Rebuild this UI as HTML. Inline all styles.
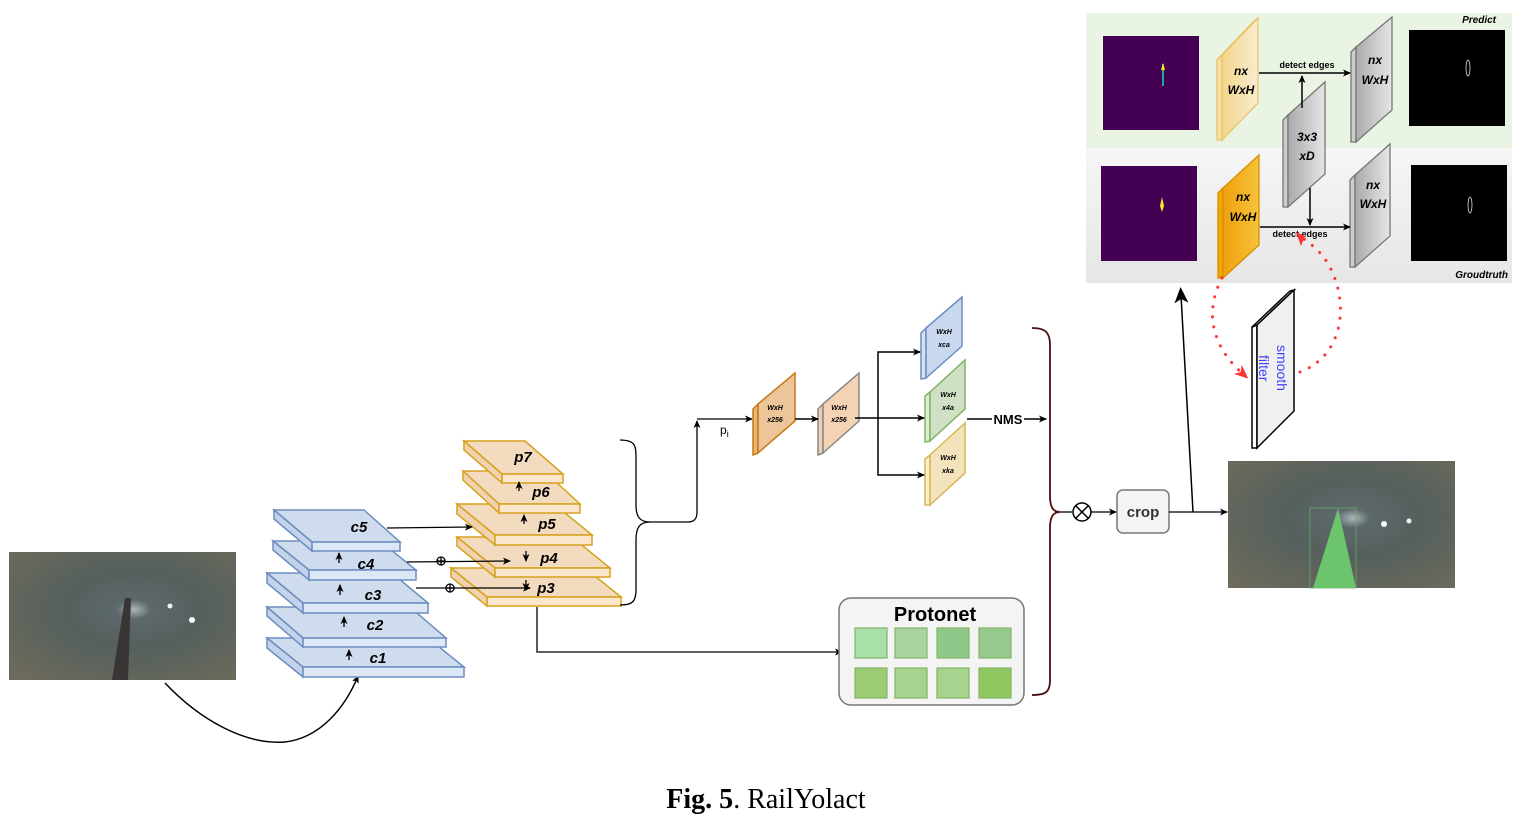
<!DOCTYPE html>
<html><head><meta charset="utf-8"><style>
html,body{margin:0;padding:0;background:#fff;}
svg{display:block;}
text{font-family:"Liberation Sans",sans-serif;}
</style></head><body>
<svg width="1518" height="821" viewBox="0 0 1518 821" xmlns="http://www.w3.org/2000/svg">
<defs>
<radialGradient id="tun" cx="0.55" cy="0.45" r="0.75">
<stop offset="0" stop-color="#aab6ba"/><stop offset="0.1" stop-color="#5d686b"/><stop offset="0.4" stop-color="#55605d"/><stop offset="1" stop-color="#6e6b5c"/>
</radialGradient>
<linearGradient id="ylw" x1="0" y1="0" x2="1" y2="0"><stop offset="0" stop-color="#f3d68a"/><stop offset="1" stop-color="#f8ecd0"/></linearGradient>
<linearGradient id="org" x1="0" y1="0" x2="1" y2="0"><stop offset="0" stop-color="#efa10e"/><stop offset="1" stop-color="#f6c33a"/></linearGradient>
<linearGradient id="gry" x1="0" y1="0" x2="1" y2="0"><stop offset="0" stop-color="#aaa"/><stop offset="1" stop-color="#e6e6e6"/></linearGradient>
<linearGradient id="bot" x1="0" y1="0" x2="0" y2="1"><stop offset="0" stop-color="#f6f6f6"/><stop offset="1" stop-color="#e6e6e6"/></linearGradient>
<marker id="ar" markerWidth="8" markerHeight="8" refX="7" refY="4" orient="auto" markerUnits="userSpaceOnUse"><path d="M0,0.5 L8,4 L0,7.5 L2,4 z" fill="#000"/></marker>
<marker id="arb" markerWidth="16" markerHeight="16" refX="8" refY="8" orient="auto" markerUnits="userSpaceOnUse"><path d="M0,1 L16,8 L0,15 L4,8 z" fill="#000"/></marker>
<marker id="arr" markerWidth="14" markerHeight="14" refX="7" refY="7" orient="auto" markerUnits="userSpaceOnUse"><path d="M0,1 L14,7 L0,13 L4,7 z" fill="#f33"/></marker>
</defs>

<rect x="1086" y="13" width="426" height="135" fill="#e9f4e3"/>
<rect x="1086" y="148" width="426" height="135" fill="url(#bot)"/>
<text x="1496" y="23" font-size="10" font-style="italic" font-weight="bold" text-anchor="end">Predict</text>
<text x="1508" y="278" font-size="10" font-style="italic" font-weight="bold" text-anchor="end">Groudtruth</text>
<rect x="1103" y="36" width="96" height="94" fill="#440154"/>
<rect x="1162" y="64" width="2" height="22" fill="#2a9"/><path d="M1161,70 L1163,63 L1165,70z" fill="#fde725"/>
<rect x="1101" y="166" width="96" height="95" fill="#440154"/>
<path d="M1160,206 L1162,197 L1164,206 L1162,212z" fill="#fde725"/>
<rect x="1409" y="30" width="96" height="96" fill="#000"/>
<ellipse cx="1468" cy="68" rx="2" ry="8" fill="none" stroke="#ddd" stroke-width="0.8"/>
<rect x="1411" y="165" width="96" height="96" fill="#000"/>
<ellipse cx="1470" cy="205" rx="2" ry="8" fill="none" stroke="#ddd" stroke-width="0.8"/>

<g stroke-width="1.3">
<polygon points="1217,60 1222,55 1222,140 1217,140" fill="#f7e1a6" stroke="#e8c36a"/>
<polygon points="1222,55 1258,18 1258,103 1222,140" fill="url(#ylw)" stroke="#e8c36a"/>
<polygon points="1217,60 1253,22 1258,18 1222,55" fill="#f3d68a" stroke="#e8c36a"/>
<polygon points="1218,193 1223,188 1223,278 1218,278" fill="#f1a600" stroke="#d98d00"/>
<polygon points="1223,188 1259,155 1259,245 1223,278" fill="url(#org)" stroke="#d98d00"/>
<polygon points="1283,120 1288,115 1288,207 1283,207" fill="#ccc" stroke="#777"/>
<polygon points="1288,115 1325,82 1325,174 1288,207" fill="url(#gry)" stroke="#777"/>
<polygon points="1351,52 1356,47 1356,142 1351,142" fill="#ccc" stroke="#777"/>
<polygon points="1356,47 1392,17 1392,110 1356,142" fill="url(#gry)" stroke="#777"/>
<polygon points="1350,180 1355,175 1355,267 1350,267" fill="#ccc" stroke="#777"/>
<polygon points="1355,175 1390,144 1390,236 1355,267" fill="url(#gry)" stroke="#777"/>
</g>
<g font-size="12" font-style="italic" font-weight="bold" text-anchor="middle">
<text x="1241" y="75">nx</text><text x="1241" y="94">WxH</text>
<text x="1243" y="201">nx</text><text x="1243" y="221">WxH</text>
<text x="1307" y="141">3x3</text><text x="1307" y="160">xD</text>
<text x="1375" y="64">nx</text><text x="1375" y="84">WxH</text>
<text x="1373" y="189">nx</text><text x="1373" y="208">WxH</text>
</g>
<g stroke="#000" stroke-width="1.5" fill="none">
<line x1="1259" y1="73" x2="1350" y2="73" marker-end="url(#ar)"/>
<line x1="1302" y1="108" x2="1302" y2="76" marker-end="url(#ar)"/>
<line x1="1260" y1="227" x2="1350" y2="227" marker-end="url(#ar)"/>
<line x1="1310" y1="188" x2="1310" y2="225" marker-end="url(#ar)"/>
</g>
<text x="1307" y="68" font-size="9" font-weight="bold" text-anchor="middle">detect edges</text>
<text x="1300" y="237" font-size="9" font-weight="bold" text-anchor="middle">detect edges</text>

<path d="M1222,278 C1205,310 1210,345 1243,374" fill="none" stroke="#f33" stroke-width="3" stroke-dasharray="0.1 10" stroke-linecap="round" marker-end="url(#arr)"/>
<path d="M1300,372 C1345,355 1350,300 1327,262 C1318,248 1305,240 1300,236" fill="none" stroke="#f33" stroke-width="3" stroke-dasharray="0.1 10" stroke-linecap="round"/>
<path d="M1296,232 L1301,246 L1305,236z" fill="#f33"/>

<polygon points="1252,327 1257,325 1257,448 1252,448" fill="#fff" stroke="#000" stroke-width="1.5"/>
<polygon points="1252,327 1290,291 1294,290 1257,325" fill="#eee" stroke="#000" stroke-width="1.5"/>
<polygon points="1257,325 1294,290 1294,411 1257,448" fill="#f0f0f0" stroke="#000" stroke-width="1.5"/>
<text transform="translate(1277,345) rotate(90)" font-size="14" fill="#4040ff">smooth</text>
<text transform="translate(1259,355) rotate(90)" font-size="14" fill="#4040ff">filter</text>

<rect x="1228" y="461" width="227" height="127" fill="url(#tun)"/>
<circle cx="1384" cy="524" r="3" fill="#f4f8ff"/><circle cx="1409" cy="521" r="2.5" fill="#eef"/>
<rect x="1310" y="508" width="46" height="80" fill="none" stroke="#6a6" stroke-width="0.8"/>
<polygon points="1338,508 1313,588 1356,588" fill="#6cc46c"/>

<line x1="1193" y1="512" x2="1181" y2="295" stroke="#000" stroke-width="1.5" marker-end="url(#arb)"/>

<rect x="9" y="552" width="227" height="128" fill="url(#tun)"/>
<polygon points="125,598 112,680 128,680 131,598" fill="#3a3535"/>
<circle cx="192" cy="620" r="3" fill="#f4f8ff"/><circle cx="170" cy="606" r="2.5" fill="#eef"/>
<path d="M165,683 C200,720 245,745 285,742 C320,738 345,708 358,676" fill="none" stroke="#000" stroke-width="1.5" marker-end="url(#ar)"/>

<g stroke="#6c8ebf" stroke-width="1.5" fill="#cfdcee">
<polygon points="267,638 428,638 464,667 303,667"/><polygon points="267,638 303,667 303,677 267,648" fill="#c4d3ea"/><rect x="303" y="667" width="161" height="10" fill="#dde8f7"/>
<polygon points="267,607 410,607 446,638 303,638"/><polygon points="267,607 303,638 303,647 267,616" fill="#c4d3ea"/><rect x="303" y="638" width="143" height="9" fill="#dde8f7"/>
<polygon points="267,573 392,573 428,603 303,603"/><polygon points="267,573 303,603 303,613 267,583" fill="#c4d3ea"/><rect x="303" y="603" width="125" height="10" fill="#dde8f7"/>
<polygon points="273,541 380,541 416,570 309,570"/><polygon points="273,541 309,570 309,580 273,550" fill="#c4d3ea"/><rect x="309" y="570" width="107" height="10" fill="#dde8f7"/>
<polygon points="274,510 364,510 400,542 312,542"/><polygon points="274,510 312,542 312,551 274,519" fill="#c4d3ea"/><rect x="312" y="542" width="88" height="9" fill="#dde8f7"/>
</g>
<g font-size="15" font-style="italic" font-weight="bold" text-anchor="middle">
<text x="378" y="663">c1</text><text x="375" y="630">c2</text><text x="373" y="600">c3</text><text x="366" y="569">c4</text><text x="359" y="532">c5</text>
</g>
<g stroke="#000" stroke-width="1.3">
<line x1="349" y1="660" x2="349" y2="650" marker-end="url(#ar)"/>
<line x1="344" y1="627" x2="344" y2="617" marker-end="url(#ar)"/>
<line x1="340" y1="595" x2="340" y2="585" marker-end="url(#ar)"/>
<line x1="339" y1="563" x2="339" y2="553" marker-end="url(#ar)"/>
</g>

<g stroke="#d6a21e" stroke-width="1.5" fill="#f3dbc0">
<polygon points="451,568 585,568 621,597 487,597"/><polygon points="451,568 487,597 487,606 451,577" fill="#f0d2b0"/><rect x="487" y="597" width="134" height="9" fill="#fde7cc"/>
<polygon points="457,537 572,537 610,568 495,568"/><polygon points="457,537 495,568 495,577 457,546" fill="#f0d2b0"/><rect x="495" y="568" width="115" height="9" fill="#fde7cc"/>
<polygon points="457,504 554,504 592,535 495,535"/><polygon points="457,504 495,535 495,545 457,514" fill="#f0d2b0"/><rect x="495" y="535" width="97" height="10" fill="#fde7cc"/>
<polygon points="463,471 544,471 580,504 499,504"/><polygon points="463,471 499,504 499,513 463,480" fill="#f0d2b0"/><rect x="499" y="504" width="81" height="9" fill="#fde7cc"/>
<polygon points="464,441 525,441 563,474 502,474"/><polygon points="464,441 502,474 502,483 464,450" fill="#f0d2b0"/><rect x="502" y="474" width="61" height="9" fill="#fde7cc"/>
</g>
<g font-size="15" font-style="italic" font-weight="bold" text-anchor="middle">
<text x="546" y="593">p3</text><text x="549" y="563">p4</text><text x="547" y="529">p5</text><text x="541" y="497">p6</text><text x="523" y="462">p7</text>
</g>
<g stroke="#000" stroke-width="1.3" fill="none">
<line x1="519" y1="491" x2="519" y2="482" marker-end="url(#ar)"/>
<line x1="524" y1="524" x2="524" y2="515" marker-end="url(#ar)"/>
<line x1="526" y1="551" x2="526" y2="561" marker-end="url(#ar)"/>
<line x1="526" y1="580" x2="526" y2="590" marker-end="url(#ar)"/>
<line x1="387" y1="528" x2="472" y2="527" marker-end="url(#ar)"/>
<line x1="407" y1="562" x2="510" y2="561" marker-end="url(#ar)"/>
<line x1="416" y1="588" x2="530" y2="588" marker-end="url(#ar)"/>
<circle cx="441" cy="561" r="4"/><line x1="437" y1="561" x2="445" y2="561"/><line x1="441" y1="557" x2="441" y2="565"/>
<circle cx="450" cy="588" r="4"/><line x1="446" y1="588" x2="454" y2="588"/><line x1="450" y1="584" x2="450" y2="592"/>
<path d="M620,440 C636,440 636,446 636,460 L636,505 C636,517 640,522 650,522 C640,522 636,527 636,540 L636,590 C636,602 632,605 620,605"/>
<path d="M650,522 L688,522 C694,522 697,519 697,512 L697,421" marker-end="url(#ar)"/>
<line x1="697" y1="419" x2="752" y2="419" marker-end="url(#ar)"/>
<path d="M537,607 L537,652 L842,652" marker-end="url(#ar)"/>
</g>
<text x="720" y="434" font-size="12">p<tspan font-size="9" dy="3">i</tspan></text>

<g stroke-width="1.5">
<polygon points="753,409 758,404 758,453 753,455" fill="#e8b57a" stroke="#c77a12"/>
<polygon points="758,404 795,373 795,421 758,453" fill="#edc59a" stroke="#c77a12"/>
<polygon points="818,409 823,404 823,453 818,455" fill="#eed0b5" stroke="#888"/>
<polygon points="823,404 859,373 859,421 823,453" fill="#f3d3b3" stroke="#888"/>
<polygon points="921,333 926,328 926,378 921,379" fill="#d6e2f2" stroke="#6c8ebf"/>
<polygon points="926,328 962,297 962,346 926,378" fill="#c9d8ee" stroke="#6c8ebf"/>
<polygon points="925,396 930,392 930,441 925,442" fill="#dceed2" stroke="#82b366"/>
<polygon points="930,392 965,360 965,409 930,441" fill="#cfe0c4" stroke="#82b366"/>
<polygon points="925,459 930,455 930,505 925,505" fill="#fbf0c8" stroke="#d6b656"/>
<polygon points="930,455 965,423 965,473 930,505" fill="#f3e3bd" stroke="#d6b656"/>
</g>
<g font-size="7" font-style="italic" font-weight="bold" text-anchor="middle">
<text x="775" y="410">WxH</text><text x="775" y="422">x256</text>
<text x="839" y="410">WxH</text><text x="839" y="422">x256</text>
<text x="944" y="334">WxH</text><text x="944" y="347">xca</text>
<text x="948" y="397">WxH</text><text x="948" y="410">x4a</text>
<text x="948" y="460">WxH</text><text x="948" y="473">xka</text>
</g>
<g stroke="#000" stroke-width="1.5" fill="none">
<line x1="795" y1="419" x2="818" y2="419" marker-end="url(#ar)"/>
<line x1="855" y1="418" x2="924" y2="418" marker-end="url(#ar)"/>
<path d="M878,418 L878,352 L920,352" marker-end="url(#ar)"/>
<path d="M878,418 L878,475 L924,475" marker-end="url(#ar)"/>
<line x1="967" y1="419" x2="992" y2="419"/>
<line x1="1024" y1="419" x2="1046" y2="419" marker-end="url(#ar)"/>
</g>
<text x="1008" y="424" font-size="13" font-weight="bold" text-anchor="middle">NMS</text>

<path d="M1032,328 C1046,328 1050,333 1050,345 L1050,496 C1050,507 1053,512 1060,512 C1053,512 1050,517 1050,528 L1050,680 C1050,692 1046,695 1032,695" fill="none" stroke="#4a1010" stroke-width="1.8"/>
<line x1="1060" y1="512" x2="1072" y2="512" stroke="#000" stroke-width="1.3"/>
<circle cx="1082" cy="512" r="9" fill="#fff" stroke="#000" stroke-width="1.5"/>
<line x1="1076" y1="506" x2="1088" y2="518" stroke="#000" stroke-width="1.5"/><line x1="1088" y1="506" x2="1076" y2="518" stroke="#000" stroke-width="1.5"/>
<line x1="1091" y1="512" x2="1116" y2="512" stroke="#000" stroke-width="1.3" marker-end="url(#ar)"/>
<rect x="1117" y="490" width="52" height="43" rx="6" fill="#f4f4f4" stroke="#777" stroke-width="1.5"/>
<text x="1143" y="517" font-size="15" font-weight="bold" text-anchor="middle" fill="#333">crop</text>
<line x1="1169" y1="512" x2="1227" y2="512" stroke="#000" stroke-width="1.3" marker-end="url(#ar)"/>

<rect x="839" y="598" width="185" height="107" rx="12" fill="#f4f4f4" stroke="#777" stroke-width="1.5"/>
<text x="935" y="621" font-size="20" font-weight="bold" text-anchor="middle">Protonet</text>
<g stroke="#82b366" stroke-width="1.2">
<rect x="855" y="628" width="32" height="30" fill="#a9e0a9"/><rect x="895" y="628" width="32" height="30" fill="#a9d4a0"/><rect x="937" y="628" width="32" height="30" fill="#8fc98a"/><rect x="979" y="628" width="32" height="30" fill="#96c98d"/>
<rect x="855" y="668" width="32" height="30" fill="#9bcb74"/><rect x="895" y="668" width="32" height="30" fill="#a6d38d"/><rect x="937" y="668" width="32" height="30" fill="#a6d38d"/><rect x="979" y="668" width="32" height="30" fill="#8fc860"/>
</g>

<text x="766" y="808" font-size="28" text-anchor="middle" style="font-family:'Liberation Serif',serif"><tspan font-weight="bold">Fig. 5</tspan>. RailYolact</text>
</svg>
</body></html>
